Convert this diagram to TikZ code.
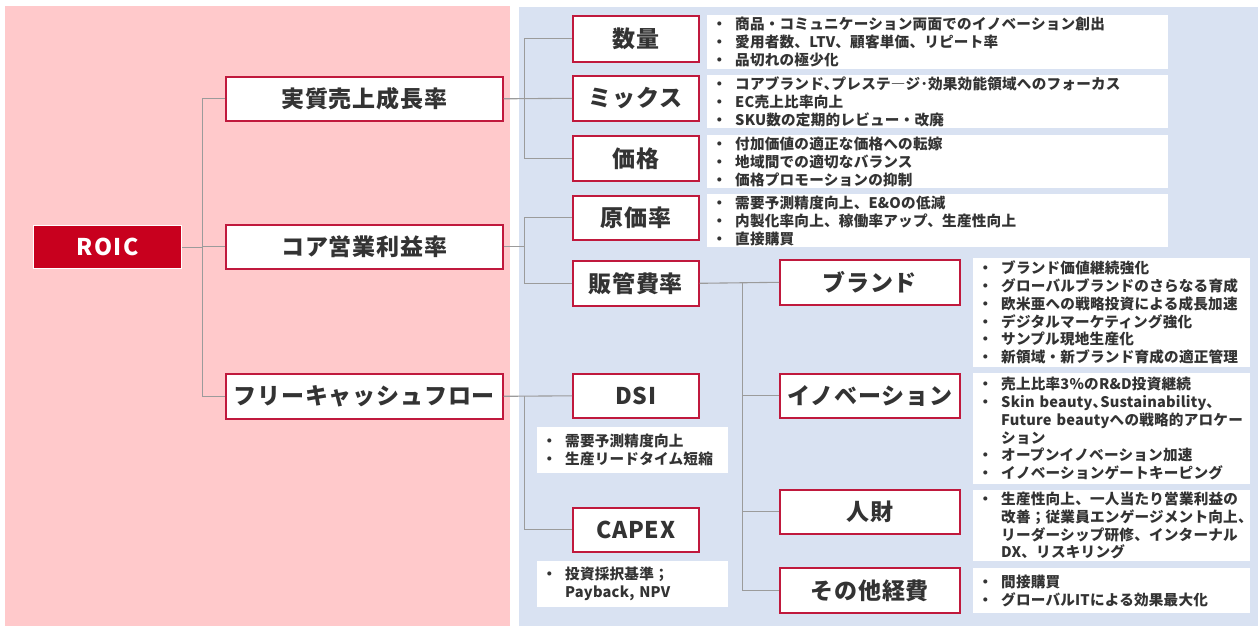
\documentclass[tikz,border=0pt]{standalone}
\usepackage{fontspec}
\setmainfont{Noto Sans CJK JP}
\definecolor{pinkbg}{HTML}{FFC9CB}
\definecolor{bluebg}{HTML}{D9E2F2}
\definecolor{boxred}{HTML}{C0193D}
\definecolor{roicred}{HTML}{C8001E}
\definecolor{linegray}{HTML}{9B9B9B}
\definecolor{txt}{HTML}{333333}
\newcommand\bu{\makebox[28pt][l]{\hspace{5pt}・}}
\newcommand\cont{\hspace*{28pt}}
\begin{document}
\begin{tikzpicture}[x=1pt,y=-1pt,
  lbl/.style={draw=boxred, line width=1.6pt, fill=white, text=txt, inner sep=0pt, anchor=north west,
    font=\fontsize{23}{27}\selectfont\bfseries\addfontfeature{LetterSpace=3.5}},
  roicbox/.style={draw=white, line width=1.2pt, fill=roicred, text=white, inner sep=0pt, anchor=north west,
    font=\fontsize{23}{27}\selectfont\bfseries\addfontfeature{LetterSpace=6}},
  bul/.style={fill=white, text=txt, inner sep=0pt, anchor=north west, align=left,
    font=\fontsize{14.6}{17.8}\selectfont\bfseries\addfontfeature{LetterSpace=1.5}},
  conn/.style={draw=linegray, line width=1.1pt}
]
\useasboundingbox (0,0) rectangle (1258,626);
\fill[white] (0,0) rectangle (1258,626);
\fill[pinkbg] (5,6) rectangle (510,626);
\fill[bluebg] (519,7) rectangle (1258,626);

% level 0
\node[roicbox, minimum width=148, minimum height=43] (roic) at (33,225) {ROIC};
% level 1
\node[lbl, minimum width=277, minimum height=44] (sales) at (225,76) {実質売上成長率};
\node[lbl, minimum width=277, minimum height=44] (core) at (225,224) {コア営業利益率};
\node[lbl, minimum width=277, minimum height=45] (fcf) at (225,373) {フリーキャッシュフロー};
% level 2
\node[lbl, minimum width=126, minimum height=46] (vol) at (572,15) {数量};
\node[lbl, minimum width=126, minimum height=45] (mix) at (572,75) {ミックス};
\node[lbl, minimum width=126, minimum height=45] (price) at (572,135) {価格};
\node[lbl, minimum width=126, minimum height=44] (cogs) at (572,195) {原価率};
\node[lbl, minimum width=126, minimum height=45] (sga) at (572,260) {販管費率};
\node[lbl, minimum width=126, minimum height=44] (dsi) at (572,373) {DSI};
\node[lbl, minimum width=126, minimum height=44] (capex) at (572,507) {CAPEX};
% level 3
\node[lbl, minimum width=180, minimum height=45] (brand) at (779,259) {ブランド};
\node[lbl, minimum width=180, minimum height=44] (innov) at (779,373) {イノベーション};
\node[lbl, minimum width=180, minimum height=44] (hr) at (779,489) {人財};
\node[lbl, minimum width=180, minimum height=45] (other) at (779,567) {その他経費};

% bullet boxes
\node[bul, text width=461, minimum height=54] (b1) at (707,15) {\bu 商品・コミュニケーション両面でのイノベーション創出\\\bu 愛用者数、LTV、顧客単価、リピート率\\\bu 品切れの極少化};
\node[bul, text width=461, minimum height=53] (b2) at (707,75) {\bu コアブランド､プレステ―ジ･効果効能領域へのフォーカス\\\bu EC売上比率向上\\\bu SKU数の定期的レビュー・改廃};
\node[bul, text width=461, minimum height=53] (b3) at (707,135) {\bu 付加価値の適正な価格への転嫁\\\bu 地域間での適切なバランス\\\bu 価格プロモーションの抑制};
\node[bul, text width=461, minimum height=53] (b4) at (707,194) {\bu 需要予測精度向上、E\&Oの低減\\\bu 内製化率向上、稼働率アップ、生産性向上\\\bu 直接購買};
\node[bul, text width=277, minimum height=109] (b5) at (973,258) {\bu ブランド価値継続強化\\\bu グローバルブランドのさらなる育成\\\bu 欧米亜への戦略投資による成長加速\\\bu デジタルマーケティング強化\\\bu サンプル現地生産化\\\bu 新領域・新ブランド育成の適正管理};
\node[bul, text width=277, minimum height=111] (b6) at (973,373) {\bu 売上比率3\%のR\&D投資継続\\\bu Skin beauty､Sustainability､\\\cont Future beautyへの戦略的アロケー\\\cont ション\\\bu オープンイノベーション加速\\\bu イノベーションゲートキーピング};
\node[bul, text width=277, minimum height=71] (b7) at (973,490) {\bu 生産性向上、一人当たり営業利益の\\\cont 改善；従業員エンゲージメント向上、\\\cont リーダーシップ研修、インターナル\\\cont DX、リスキリング};
\node[bul, text width=277, minimum height=45] (b8) at (973,568) {\bu 間接購買\\\bu グローバルITによる効果最大化};
\node[bul, text width=191, minimum height=46] (b9) at (537,427) {\bu 需要予測精度向上\\\bu 生産リードタイム短縮};
\node[bul, text width=191, minimum height=46] (b10) at (537,561) {\bu 投資採択基準；\\\cont Payback, NPV};

% connectors
\path (roic.east) ++(20,0) coordinate (j0);
\draw[conn] (roic.east) -- (j0) |- (sales.west);
\draw[conn] (j0) |- (core.west);
\draw[conn] (j0) |- (fcf.west);

\path (sales.east) ++(21,0) coordinate (j1);
\draw[conn] (sales.east) -- (mix.west);
\draw[conn] (j1) |- (vol.west);
\draw[conn] (j1) |- (price.west);

\path (core.east) ++(21,0) coordinate (j2);
\draw[conn] (core.east) -- (j2);
\draw[conn] (j2) |- (cogs.west);
\draw[conn] (j2) |- (sga.west);

\path (fcf.east) ++(21,0) coordinate (j3);
\draw[conn] (fcf.east) -- (dsi.west);
\draw[conn] (j3) |- (capex.west);

\path (sga.east) ++(43,0) coordinate (j4);
\draw[conn] (sga.east) -- (brand.west);
\draw[conn] (j4) |- (innov.west);
\draw[conn] (j4) |- (hr.west);
\draw[conn] (j4) |- (other.west);
\end{tikzpicture}
\end{document}
